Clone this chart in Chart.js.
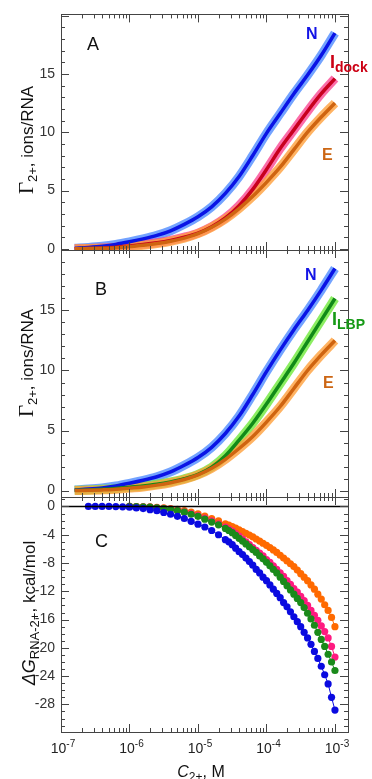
<!DOCTYPE html>
<html>
<head>
<meta charset="utf-8">
<script src="https://cdn.jsdelivr.net/npm/chart.js@4"></script>
<style>
  body { margin: 0; background: #fff; }
  #wrap { position: relative; width: 372px; height: 779px; }
  canvas { position: absolute; left: 0; top: 0; }
</style>
</head>
<body>
<div id="wrap">
  <canvas id="panelA" width="372" height="779"></canvas>
  <canvas id="panelB" width="372" height="779"></canvas>
  <canvas id="panelC" width="372" height="779"></canvas>
</div>
<script>
// log10 of Mg2+ concentration (M) for panels A and B
const gammaExp = [-6.8, -6.6, -6.4, -6.2, -6.0, -5.8, -5.6, -5.4, -5.2, -5.0,
                  -4.8, -4.6, -4.4, -4.2, -4.0, -3.8, -3.6, -3.4, -3.2, -3.0];
// panel A, ions/RNA
const gammaN_A     = [0.05, 0.12, 0.22, 0.38, 0.6, 0.85, 1.15, 1.55, 2.1, 2.75, 3.6, 4.75, 6.2, 8.0, 9.9, 11.6, 13.3, 14.9, 16.6, 18.5];
const gammaIdock_A = [0.0, 0.03, 0.07, 0.13, 0.25, 0.38, 0.52, 0.72, 1.0, 1.35, 1.9, 2.65, 3.7, 5.1, 6.8, 8.6, 10.2, 11.8, 13.3, 14.6];
const gammaE_A     = [0.0, 0.02, 0.05, 0.1, 0.2, 0.3, 0.45, 0.65, 0.92, 1.3, 1.85, 2.55, 3.45, 4.5, 5.7, 7.0, 8.5, 10.0, 11.3, 12.5];
// panel B, ions/RNA
const gammaN_B     = [0.05, 0.12, 0.22, 0.38, 0.6, 0.85, 1.15, 1.55, 2.1, 2.75, 3.6, 4.75, 6.2, 8.0, 9.9, 11.7, 13.4, 15.0, 16.7, 18.5];
const gammaILBP_B  = [0.02, 0.05, 0.1, 0.17, 0.27, 0.38, 0.52, 0.72, 0.98, 1.35, 1.95, 2.9, 4.2, 5.6, 7.2, 8.9, 10.6, 12.4, 14.2, 16.0];
const gammaE_B     = [0.0, 0.02, 0.05, 0.1, 0.2, 0.3, 0.45, 0.65, 0.92, 1.3, 1.85, 2.6, 3.5, 4.5, 5.7, 7.0, 8.5, 10.0, 11.3, 12.5];

// log10 concentration for panel C
const dgExp = [-6.6, -6.5, -6.4, -6.3, -6.2, -6.1, -6.0, -5.9, -5.8, -5.7, -5.6, -5.5, -5.4, -5.3, -5.2, -5.1, -5.0, -4.9, -4.8, -4.7, -4.6,
               -4.55, -4.5, -4.45, -4.4, -4.35, -4.3, -4.25, -4.2, -4.15, -4.1, -4.05, -4.0, -3.95, -3.9, -3.85, -3.8, -3.75, -3.7,
               -3.65, -3.6, -3.55, -3.5, -3.45, -3.4, -3.35, -3.3, -3.25, -3.2, -3.15, -3.1, -3.05, -3.0];
// panel C, kcal/mol
const dgN = [0.0, 0.0, 0.0, 0.0, -0.02, -0.05, -0.1, -0.2, -0.3, -0.45, -0.6, -0.85, -1.1, -1.4, -1.7, -2.1, -2.5, -2.9, -3.4, -4.0, -4.7,
             -5.0, -5.4, -5.9, -6.4, -6.8, -7.3, -7.8, -8.3, -8.9, -9.4, -10.0, -10.5, -11.1, -11.7, -12.3, -12.9, -13.6, -14.2,
             -14.9, -15.6, -16.3, -17.0, -17.8, -18.6, -19.5, -20.5, -21.5, -22.6, -23.8, -25.1, -27.0, -28.8];
const dgILBP = [null, null, null, null, null, null, 0.0, -0.02, -0.05, -0.1, -0.2, -0.3, -0.4, -0.6, -0.8, -1.1, -1.4, -1.8, -2.2, -2.6, -3.1,
             -3.4, -3.7, -4.1, -4.5, -4.9, -5.3, -5.7, -6.1, -6.5, -7.0, -7.4, -7.9, -8.4, -8.9, -9.4, -10.0, -10.6, -11.2,
             -11.8, -12.4, -13.0, -13.6, -14.3, -15.1, -15.9, -16.8, -17.8, -18.8, -19.8, -20.9, -22.0, -23.2];
const dgIdock = [null, null, null, null, null, null, 0.0, -0.02, -0.05, -0.1, -0.18, -0.27, -0.37, -0.55, -0.75, -1.0, -1.3, -1.65, -2.05, -2.45, -2.9,
             -3.2, -3.5, -3.85, -4.2, -4.6, -5.0, -5.4, -5.8, -6.2, -6.6, -7.0, -7.5, -7.9, -8.4, -8.9, -9.4, -9.9, -10.5,
             -11.0, -11.6, -12.1, -12.7, -13.3, -14.0, -14.7, -15.4, -16.1, -16.9, -17.7, -18.6, -19.8, -21.3];
const dgE = [null, null, null, null, null, null, 0.0, -0.02, -0.04, -0.07, -0.12, -0.2, -0.3, -0.42, -0.6, -0.8, -1.05, -1.35, -1.7, -2.05, -2.45,
             -2.65, -2.85, -3.05, -3.3, -3.55, -3.8, -4.05, -4.3, -4.6, -4.9, -5.2, -5.5, -5.8, -6.15, -6.5, -6.9, -7.3, -7.7,
             -8.1, -8.5, -9.0, -9.5, -10.0, -10.5, -11.1, -11.7, -12.4, -13.1, -13.9, -14.7, -15.7, -17.0];

const gammaTicks = [0, 5, 10, 15];
const dgTicks = [0, -4, -8, -12, -16, -20, -24, -28];
const xDecades = [-7, -6, -5, -4, -3];

const SANS = '"Liberation Sans", Arial, Helvetica, sans-serif';
const SERIF = '"Liberation Serif", "Times New Roman", serif';

function pts(exps, vals) {
  return exps.map((e, i) => vals[i] == null ? null : { x: Math.pow(10, e), y: vals[i] }).filter(Boolean);
}

// draw a run of text pieces (for sub/superscripts)
function drawRich(ctx, parts, x, y, align, rotate) {
  ctx.save();
  ctx.translate(x, y);
  if (rotate) ctx.rotate(-Math.PI / 2);
  ctx.textBaseline = 'alphabetic';
  ctx.textAlign = 'left';
  let w = 0;
  parts.forEach(p => { ctx.font = p.font; p.w = ctx.measureText(p.t).width; w += p.w; });
  let cx = align === 'center' ? -w / 2 : align === 'right' ? -w : 0;
  parts.forEach(p => {
    ctx.font = p.font;
    ctx.fillStyle = p.color || '#111';
    ctx.fillText(p.t, cx, p.dy || 0);
    cx += p.w;
  });
  ctx.restore();
}

const framePlugin = {
  id: 'frame',
  afterDatasetsDraw(chart, args, opts) {
    const { ctx, chartArea: a, scales: { x, y } } = chart;
    ctx.save();
    if (opts.zeroLine) {
      const py = Math.round(y.getPixelForValue(0)) + 0.5;
      ctx.strokeStyle = '#000';
      ctx.lineWidth = 1.5;
      ctx.beginPath(); ctx.moveTo(a.left, py); ctx.lineTo(a.right, py); ctx.stroke();
    }
    ctx.strokeStyle = '#444';
    ctx.lineWidth = 1;
    ctx.strokeRect(Math.round(a.left) + 0.5, Math.round(a.top) + 0.5, Math.round(a.right - a.left), Math.round(a.bottom - a.top));
    ctx.beginPath();
    // x ticks, inward on top and bottom
    xDecades.forEach(d => {
      for (let m = 1; m <= 9; m++) {
        const v = m * Math.pow(10, d);
        if (v > x.max) break;
        const px = Math.round(x.getPixelForValue(v)) + 0.5;
        const len = m === 1 ? 8 : 4;
        ctx.moveTo(px, a.bottom); ctx.lineTo(px, a.bottom - len);
        ctx.moveTo(px, a.top); ctx.lineTo(px, a.top + len);
      }
    });
    // y ticks, inward on left and right
    for (let v = Math.ceil(y.min); v <= Math.floor(y.max); v++) {
      const py = Math.round(y.getPixelForValue(v)) + 0.5;
      const len = v % opts.major === 0 ? 8 : 4;
      ctx.moveTo(a.left, py); ctx.lineTo(a.left + len, py);
      ctx.moveTo(a.right, py); ctx.lineTo(a.right - len, py);
    }
    ctx.stroke();
    ctx.restore();
  },
  afterDraw(chart, args, opts) {
    const ctx = chart.ctx;
    (opts.texts || []).forEach(t => drawRich(ctx, t.parts, t.x, t.y, t.align, t.rotate));
    if (opts.xLabels) {
      const { x } = chart.scales;
      xDecades.forEach(d => {
        const px = x.getPixelForValue(Math.pow(10, d));
        drawRich(ctx, [
          { t: '10', font: '14px ' + SANS, color: '#222' },
          { t: String(d), font: '10px ' + SANS, color: '#222', dy: -6 }
        ], px + 2, 753, 'center', false);
      });
    }
  }
};

function bandSet(data, band, line) {
  return [
    { data: data, showLine: true, borderColor: band, borderWidth: 9, pointRadius: 0, cubicInterpolationMode: 'monotone', order: 2 },
    { data: data, showLine: true, borderColor: line, borderWidth: 3.5, pointRadius: 0, cubicInterpolationMode: 'monotone', order: 1 }
  ];
}

function dotSet(data, color) {
  return { data: data, borderColor: color, backgroundColor: color, borderWidth: 1, pointRadius: 3.6,
           pointBorderWidth: 0, showLine: true };
}

function makeChart(id, datasets, pad, yMin, yMax, yTicks, major, frameOpts) {
  return new Chart(document.getElementById(id), {
    type: 'scatter',
    data: { datasets: datasets },
    options: {
      responsive: false,
      animation: false,
      devicePixelRatio: 1,
      layout: { padding: pad },
      plugins: { legend: { display: false }, tooltip: { enabled: false }, frame: Object.assign({ major: major }, frameOpts) },
      scales: {
        x: { type: 'logarithmic', min: 1e-7, max: 1.55e-3, display: false },
        y: {
          type: 'linear', min: yMin, max: yMax,
          grid: { display: false, drawTicks: false }, border: { display: false },
          afterBuildTicks: s => { s.ticks = yTicks.map(v => ({ value: v })); },
          afterFit: s => { s.width = 61; },
          ticks: { autoSkip: false, padding: 6, color: '#333', font: { family: SANS, size: 14 }, callback: v => String(v) }
        }
      }
    },
    plugins: [framePlugin]
  });
}

const gammaTitle = (cy) => ({
  rotate: true, align: 'center', x: 33, y: cy,
  parts: [
    { t: 'Γ', font: '21px ' + SERIF },
    { t: '2+', font: '13px ' + SANS, dy: 4 },
    { t: ', ions/RNA', font: '17px ' + SANS }
  ]
});

makeChart('panelA', [
    ...bandSet(pts(gammaExp, gammaE_A), 'rgba(255,160,60,0.8)', '#cf6410'),
    ...bandSet(pts(gammaExp, gammaIdock_A), 'rgba(250,60,140,0.75)', '#c8001e'),
    ...bandSet(pts(gammaExp, gammaN_A), 'rgba(80,140,255,0.8)', '#0a14e6')
  ], { top: 12, right: 24, bottom: 779 - 250, left: 0 }, -0.1, 20.1, gammaTicks, 5, {
    texts: [
      gammaTitle(140),
      { x: 87, y: 50, parts: [{ t: 'A', font: '18px ' + SANS }] },
      { x: 306, y: 39, parts: [{ t: 'N', font: 'bold 16px ' + SANS, color: '#1414e6' }] },
      { x: 330, y: 68, parts: [{ t: 'I', font: 'bold 18px ' + SANS, color: '#cc0014' },
                               { t: 'dock', font: 'bold 14px ' + SANS, color: '#cc0014', dy: 4 }] },
      { x: 322, y: 160, parts: [{ t: 'E', font: 'bold 16px ' + SANS, color: '#cc6614' }] }
    ]
  });

makeChart('panelB', [
    ...bandSet(pts(gammaExp, gammaE_B), 'rgba(255,160,60,0.8)', '#cf6410'),
    ...bandSet(pts(gammaExp, gammaILBP_B), 'rgba(120,235,70,0.85)', '#118a18'),
    ...bandSet(pts(gammaExp, gammaN_B), 'rgba(80,140,255,0.8)', '#0a14e6')
  ], { top: 250, right: 24, bottom: 779 - 497, left: 0 }, -0.54, 20.04, gammaTicks, 5, {
    texts: [
      gammaTitle(363),
      { x: 95, y: 295, parts: [{ t: 'B', font: '18px ' + SANS }] },
      { x: 305, y: 280, parts: [{ t: 'N', font: 'bold 16px ' + SANS, color: '#1414e6' }] },
      { x: 332, y: 325, parts: [{ t: 'I', font: 'bold 18px ' + SANS, color: '#169a16' },
                                { t: 'LBP', font: 'bold 14px ' + SANS, color: '#169a16', dy: 4 }] },
      { x: 323, y: 388, parts: [{ t: 'E', font: 'bold 16px ' + SANS, color: '#cc6614' }] }
    ]
  });

makeChart('panelC', [
    dotSet(pts(dgExp, dgN), '#0a0ae0'),
    dotSet(pts(dgExp, dgILBP), '#1a8a1a'),
    dotSet(pts(dgExp, dgIdock), '#ff1a80'),
    dotSet(pts(dgExp, dgE), '#ff6a00')
  ], { top: 497, right: 24, bottom: 779 - 732, left: 0 }, -31.9, 1.34, dgTicks, 4, {
    zeroLine: true,
    xLabels: true,
    texts: [
      { rotate: true, align: 'center', x: 35, y: 613, parts: [
        { t: 'ΔG', font: 'italic 18px ' + SANS },
        { t: 'RNA-2+', font: '13px ' + SANS, dy: 4 },
        { t: ', kcal/mol', font: '17px ' + SANS }
      ] },
      { x: 95, y: 547, parts: [{ t: 'C', font: '18px ' + SANS }] },
      { align: 'center', x: 201, y: 777, parts: [
        { t: 'C', font: 'italic 16px ' + SANS },
        { t: '2+', font: '12px ' + SANS, dy: 4 },
        { t: ', M', font: '16px ' + SANS }
      ] }
    ]
  });
</script>
</body>
</html>
